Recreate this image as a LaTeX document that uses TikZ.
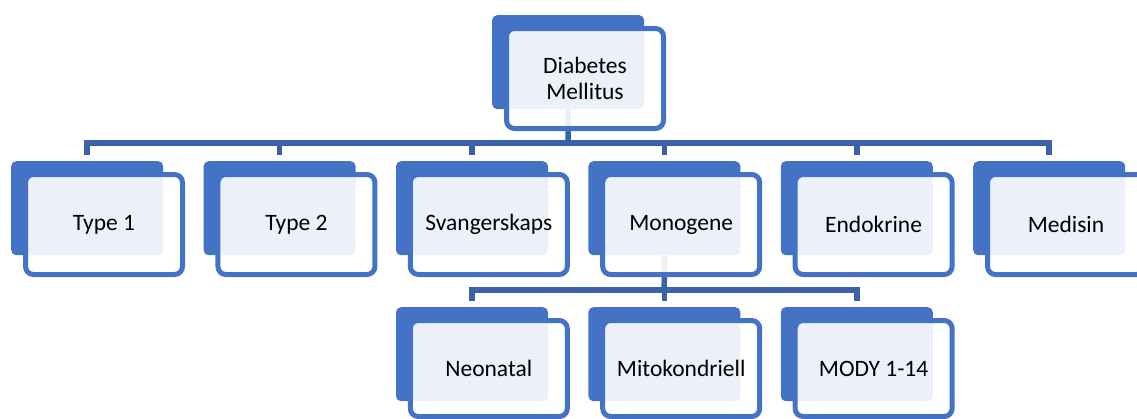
\documentclass[tikz,border=0pt]{standalone}
\usepackage{fontspec}
\setmainfont{Carlito}
\definecolor{accent}{RGB}{68,114,196}
\definecolor{connblue}{RGB}{58,98,166}
\pgfdeclarelayer{bg}
\pgfsetlayers{bg,main}
\begin{document}
\begin{tikzpicture}[x=1pt,y=-1pt,
  backbox/.style={fill=accent, rounded corners=5pt, minimum width=152pt, minimum height=94pt, inner sep=0pt, anchor=north west},
  frontbox/.style={draw=accent, line width=5pt, fill=white, fill opacity=0.9, text opacity=1, rounded corners=8pt, minimum width=157pt, minimum height=100pt, inner sep=0pt, align=center, font=\fontsize{23.5}{26}\selectfont, text=black},
  lowfront/.style={frontbox, minimum height=96pt},
  linkline/.style={draw=connblue, line width=5.5pt},
]
\path[use as bounding box] (0,0) rectangle (1137,418);

% top
\node[backbox] (top-b) at (492,15) {};
\node[frontbox] (top) at (585,78.5) {Diabetes\\Mellitus};

% first level
\node[backbox] (c1-b) at (11,161) {};
\node[frontbox] (c1) at (104,224.5) {Type 1};
\node[backbox] (c2-b) at (203.4,161) {};
\node[frontbox] (c2) at (296.4,224.5) {Type 2};
\node[backbox] (c3-b) at (395.8,161) {};
\node[frontbox] (c3) at (488.8,224.5) {Svangerskaps};
\node[backbox] (c4-b) at (588.2,161) {};
\node[frontbox] (c4) at (681.2,224.5) {Monogene};
\node[backbox] (c5-b) at (780.6,161) {};
\node[frontbox] (c5) at (873.6,224.5) {Endokrine};
\node[backbox] (c6-b) at (973,161) {};
\node[frontbox] (c6) at (1066,224.5) {Medisin};

% second level
\node[backbox] (d1-b) at (395.8,307) {};
\node[lowfront] (d1) at (488.8,368.5) {Neonatal};
\node[backbox] (d2-b) at (588.2,307) {};
\node[lowfront] (d2) at (681.2,368.5) {Mitokondriell};
\node[backbox] (d3-b) at (780.6,307) {};
\node[lowfront] (d3) at (873.6,368.5) {MODY 1-14};

% connectors
\begin{pgfonlayer}{bg}
\coordinate (bus1) at (568,143);
\draw[linkline] (top-b.south) -- (bus1);
\foreach \n in {c1,c2,c3,c4,c5,c6}
  \draw[linkline, shorten >=6pt] (bus1) -| (\n-b.north);
\coordinate (bus2) at (664.2,290);
\draw[linkline] (c4-b.south) -- (bus2);
\foreach \n in {d1,d2,d3}
  \draw[linkline, shorten >=6pt] (bus2) -| (\n-b.north);
\end{pgfonlayer}
\end{tikzpicture}
\end{document}
